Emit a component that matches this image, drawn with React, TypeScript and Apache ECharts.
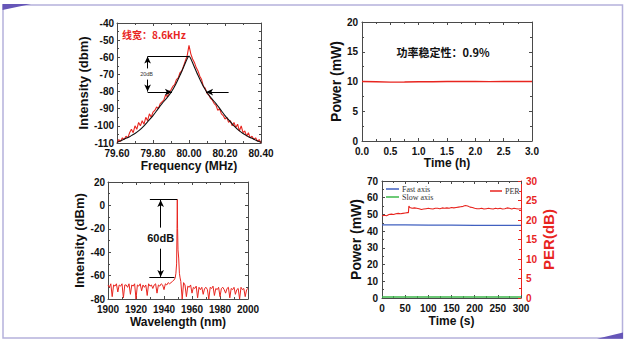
import React, { useEffect, useRef } from "react";
import * as echarts from "echarts";

// ---------- Panel A: linewidth spectrum ----------
const freqMHz = [
  79.6, 79.61, 79.62, 79.63, 79.64, 79.65, 79.66, 79.67, 79.68, 79.69,
  79.7, 79.71, 79.72, 79.73, 79.74, 79.75, 79.76, 79.77, 79.78, 79.79,
  79.8, 79.81, 79.82, 79.83, 79.84, 79.85, 79.86, 79.87, 79.88, 79.89,
  79.9, 79.91, 79.92, 79.93, 79.94, 79.95, 79.96, 79.97, 79.98, 79.99,
  80.0, 80.01, 80.02, 80.03, 80.04, 80.05, 80.06, 80.07, 80.08, 80.09,
  80.1, 80.11, 80.12, 80.13, 80.14, 80.15, 80.16, 80.17, 80.18, 80.19,
  80.2, 80.21, 80.22, 80.23, 80.24, 80.25, 80.26, 80.27, 80.28, 80.29,
  80.3, 80.31, 80.32, 80.33, 80.34, 80.35, 80.36, 80.37, 80.38, 80.39, 80.4,
];
const measuredDbm = [
  -110, -108, -109, -107, -108, -106, -107, -104, -102, -104,
  -100, -102, -98, -100, -97, -99, -95, -97, -93, -95,
  -92, -91, -89, -90, -87, -86, -85, -82, -83, -80,
  -79, -77, -76, -73, -72, -69, -68, -65, -62, -59,
  -53, -58, -61, -63, -66, -68, -71, -73, -77, -78,
  -81, -82, -84, -85, -87, -88, -91, -90, -93, -94,
  -96, -95, -98, -97, -100, -98, -101, -99, -103, -100,
  -104, -103, -106, -104, -107, -106, -108, -107, -109, -108, -110,
];
const fitFreq = [
  79.6, 79.625, 79.65, 79.675, 79.7, 79.725, 79.75, 79.775, 79.8, 79.825,
  79.85, 79.875, 79.9, 79.925, 79.95, 79.975, 79.99, 80.0, 80.01, 80.025, 80.05, 80.075,
  80.1, 80.125, 80.15, 80.175, 80.2, 80.225, 80.25, 80.275, 80.3, 80.325,
  80.35, 80.375, 80.4,
];
const fitDbm = [
  -109.5, -108.5, -107.3, -106, -104.5, -102.5, -100, -97, -94, -90.5,
  -87, -84, -80.5, -76, -70.5, -64.5, -60.8, -59.3, -60.8, -64.5, -70.5, -76,
  -80.5, -84, -87, -90.5, -94, -97, -100, -102.5, -104.5, -106,
  -107.3, -108.5, -109.5,
];
// annotation segments [x1, y1, x2, y2]
const fwhmLines = [
  [79.77, -59.3, 80.0, -59.3],
];
const fwhmArrows = [
  [79.77, -66.5, 79.77, -59.6],
  [79.77, -73, 79.77, -80],
  [79.77, -80.3, 79.905, -80.3],
  [80.22, -80.3, 80.095, -80.3],
];

// ---------- Panel B: power stability ----------
const timeH = [0, 0.25, 0.5, 0.75, 1.0, 1.25, 1.5, 1.75, 2.0, 2.25, 2.5, 2.75, 3.0];
const powerMW = [10.0, 9.95, 9.9, 9.92, 9.95, 9.97, 10.0, 10.0, 10.0, 9.98, 10.0, 10.0, 10.0];

// ---------- Panel C: wide spectrum ----------
const wavelengthNm = [
  1900, 1901, 1902, 1903, 1904, 1905, 1906, 1907, 1908, 1909,
  1910, 1911, 1912, 1913, 1914, 1915, 1916, 1917, 1918, 1919,
  1920, 1921, 1922, 1923, 1924, 1925, 1926, 1927, 1928, 1929,
  1930, 1931, 1932, 1933, 1934, 1935, 1936, 1937, 1938, 1939,
  1940, 1941, 1942, 1943, 1944, 1945, 1946, 1947, 1948, 1948.5,
  1949, 1949.3, 1949.5, 1949.7, 1950, 1950.5, 1951, 1951.5, 1952, 1953,
  1954, 1955, 1956, 1957, 1958, 1959, 1960, 1961, 1962, 1963,
  1964, 1965, 1966, 1967, 1968, 1969, 1970, 1971, 1972, 1973,
  1974, 1975, 1976, 1977, 1978, 1979, 1980, 1981, 1982, 1983,
  1984, 1985, 1986, 1987, 1988, 1989, 1990, 1991, 1992, 1993,
  1994, 1995, 1996, 1997, 1998, 1999, 2000,
];
const spectrumDbm = [
  -68, -70, -67, -78, -68, -69, -67, -74, -68, -69,
  -67, -79, -68, -68, -70, -67, -76, -68, -69, -67,
  -80, -68, -69, -67, -73, -68, -70, -68, -77, -67,
  -69, -68, -71, -68, -67, -75, -68, -69, -67, -68,
  -72, -67, -68, -66, -67, -66, -65, -64, -62, -58,
  -50, -20, 5, -20, -38, -45, -58, -62, -65, -80,
  -66, -68, -78, -69, -70, -68, -75, -70, -71, -69,
  -79, -70, -72, -70, -76, -71, -70, -72, -80, -70,
  -71, -69, -77, -71, -72, -70, -78, -71, -70, -72,
  -75, -71, -70, -79, -71, -72, -70, -76, -72, -71,
  -80, -70, -72, -71, -78, -72, -71,
];
const smsrLines = [
  [1929.9, 5, 1949.5, 5],
  [1929.5, -61.5, 1947.5, -61.5],
];
const smsrArrows = [
  [1937.6, -19, 1937.6, 4.6],
  [1937.6, -37, 1937.6, -61.1],
];

// ---------- Panel D: PM output ----------
const timeS = [0, 50, 100, 150, 200, 250, 300];
const fastAxisMW = [43.8, 43.7, 43.6, 43.6, 43.5, 43.5, 43.5];
const slowAxisMW = [0.6, 0.6, 0.6, 0.6, 0.6, 0.6, 0.6];
const perTimeS = [
  0, 5, 10, 15, 20, 25, 30, 35, 40, 45, 50, 55, 57, 58, 60, 65, 70, 75, 80, 85,
  90, 95, 100, 105, 110, 115, 120, 125, 130, 135, 140, 145, 150, 155, 160, 165, 170, 175, 180, 185,
  190, 195, 200, 205, 210, 215, 220, 225, 230, 235, 240, 245, 250, 255, 260, 265, 270, 275, 280, 285,
  290, 295, 300,
];
const perDb = [
  21.0, 21.2, 21.1, 21.4, 21.5, 21.4, 21.6, 21.7, 21.6, 21.7, 21.8, 21.9, 21.9, 23.6, 23.2, 23.0, 23.1, 23.0, 22.9, 22.7,
  22.8, 22.9, 23.0, 22.9, 22.8, 23.0, 23.0, 22.9, 23.1, 23.0, 23.1, 23.0, 23.2, 23.1, 23.2, 23.3, 23.4, 23.5, 23.7, 23.6,
  23.3, 23.2, 23.0, 22.9, 22.9, 23.0, 22.8, 22.9, 23.0, 22.9, 22.8, 23.0, 22.9, 23.0, 22.8, 22.9, 23.1, 23.0, 22.8, 23.0,
  22.9, 22.8, 22.9,
];

const FONT = "'Liberation Sans', Arial, sans-serif";
const CJK = "'Noto Sans CJK SC', sans-serif";
const AXC = "#4a4a4a";
const RED = "#e8251f";

const pairs = (xs: number[], ys: number[]) => xs.map((x, i) => [x, ys[i]]);

const LABEL = { color: "#111", fontSize: 10, fontWeight: "bold", fontFamily: FONT, margin: 3 };
const NAME = { color: "#111", fontSize: 13, fontWeight: "bold", fontFamily: FONT };

function axis(extra: any) {
  return {
    axisLine: { show: true, onZero: false, lineStyle: { color: AXC, width: 1 } },
    axisTick: { show: true, inside: true, length: 3, lineStyle: { color: AXC, width: 1 } },
    minorTick: { show: true, splitNumber: 2, length: 2, lineStyle: { color: AXC, width: 1 } },
    splitLine: { show: false },
    axisLabel: LABEL,
    nameLocation: "middle",
    nameTextStyle: NAME,
    ...extra,
  };
}
function mirror(extra: any) {
  return axis({ axisLabel: { show: false }, ...extra });
}

function segs(list: number[][], arrow: boolean) {
  return list.map((s) => [
    { coord: [s[0], s[1]], symbol: "none" },
    { coord: [s[2], s[3]], symbol: arrow ? "arrow" : "none" },
  ]);
}

export default function App() {
  const ref = useRef<HTMLDivElement>(null);
  useEffect(() => {
    if (!ref.current) return;
    const chart = echarts.init(ref.current, null, { renderer: "svg" });
    const grids = [
      { left: 117, top: 23, width: 144, height: 120 },
      { left: 362, top: 22, width: 170, height: 119 },
      { left: 108, top: 182, width: 140, height: 117 },
      { left: 382, top: 181, width: 139, height: 117 },
    ];
    const fx2 = (v: number) => v.toFixed(2);
    const fx1 = (v: number) => v.toFixed(1);
    const plain = (v: number) => String(v);
    const xA = { min: 79.6, max: 80.4, interval: 0.2 };
    const xB = { min: 0, max: 3, interval: 0.5 };
    const xC = { min: 1900, max: 2000, interval: 20 };
    const xD = { min: 0, max: 300, interval: 50 };
    const yA = { min: -110, max: -40, interval: 10 };
    const yB = { min: 0, max: 20, interval: 5 };
    const yC = { min: -80, max: 20, interval: 20 };
    const yD = { min: 0, max: 70, interval: 10 };
    const yD2 = { min: 0, max: 30, interval: 5 };
    const markStyle = {
      silent: true,
      animation: false,
      symbolSize: [5, 7],
      label: { show: false },
      emphasis: { disabled: true },
      lineStyle: { color: "#000", width: 1, type: "solid" },
    };
    const xName = { ...NAME, fontSize: 12 };
    const option: any = {
      animation: false,
      backgroundColor: "#fff",
      grid: grids,
      xAxis: [
        axis({ type: "value", gridIndex: 0, ...xA, axisLabel: { ...LABEL, formatter: fx2, margin: 5 }, name: "Frequency (MHz)", nameGap: 17, nameTextStyle: xName }),
        mirror({ type: "value", gridIndex: 0, position: "top", ...xA }),
        axis({ type: "value", gridIndex: 1, ...xB, axisLabel: { ...LABEL, formatter: fx1, margin: 5 }, name: "Time (h)", nameGap: 15, nameTextStyle: xName }),
        mirror({ type: "value", gridIndex: 1, position: "top", ...xB }),
        axis({ type: "value", gridIndex: 2, ...xC, axisLabel: { ...LABEL, formatter: plain, margin: 5 }, name: "Wavelength (nm)", nameGap: 17, nameTextStyle: xName }),
        mirror({ type: "value", gridIndex: 2, position: "top", ...xC }),
        axis({ type: "value", gridIndex: 3, ...xD, axisLabel: { ...LABEL, formatter: plain, margin: 5 }, name: "Time (s)", nameGap: 17, nameTextStyle: xName }),
        mirror({ type: "value", gridIndex: 3, position: "top", ...xD }),
      ],
      yAxis: [
        axis({ type: "value", gridIndex: 0, ...yA, name: "Intensity (dbm)", nameGap: 24 }),
        mirror({ type: "value", gridIndex: 0, position: "right", ...yA }),
        axis({ type: "value", gridIndex: 1, ...yB, axisLabel: { ...LABEL, margin: 4 }, name: "Power (mW)", nameGap: 17, nameTextStyle: { ...NAME, fontSize: 14 } }),
        mirror({ type: "value", gridIndex: 1, position: "right", ...yB }),
        axis({ type: "value", gridIndex: 2, ...yC, name: "Intensity (dBm)", nameGap: 22 }),
        mirror({ type: "value", gridIndex: 2, position: "right", ...yC }),
        axis({ type: "value", gridIndex: 3, ...yD, axisLabel: { ...LABEL, margin: 4 }, name: "Power (mW)", nameGap: 18, nameTextStyle: { ...NAME, fontSize: 14 } }),
        axis({
          type: "value", gridIndex: 3, position: "right", ...yD2,
          name: "PER(dB)", nameGap: 16, nameRotate: 90,
          axisLine: { show: true, onZero: false, lineStyle: { color: RED, width: 1 } },
          axisTick: { show: true, inside: true, length: 3, lineStyle: { color: RED } },
          minorTick: { show: true, splitNumber: 2, length: 2, lineStyle: { color: RED } },
          axisLabel: { ...LABEL, color: RED, margin: 5 },
          nameTextStyle: { ...NAME, color: RED, fontSize: 15 },
        }),
      ],
      legend: [
        {
          data: ["Fast axis", "Slow axis"], orient: "vertical", left: 386, top: 185,
          icon: "rect", itemWidth: 13, itemHeight: 1.5, itemGap: 0,
          textStyle: { fontFamily: "'Liberation Serif', serif", fontSize: 8, color: "#333", padding: [0, 0, 0, -2] },
          selectedMode: false, padding: 0,
        },
        {
          data: ["PER"], left: 490, top: 187,
          icon: "rect", itemWidth: 12, itemHeight: 1.5,
          textStyle: { fontFamily: "'Liberation Serif', serif", fontSize: 8, color: "#333", padding: [0, 0, 0, -2] },
          selectedMode: false, padding: 0,
        },
      ],
      series: [
        {
          type: "line", name: "Measured", xAxisIndex: 0, yAxisIndex: 0, symbol: "none",
          data: pairs(freqMHz, measuredDbm), lineStyle: { color: RED, width: 1.1 }, z: 2,
        },
        {
          type: "line", name: "Fit", xAxisIndex: 0, yAxisIndex: 0, symbol: "none", smooth: 0.3,
          data: pairs(fitFreq, fitDbm), lineStyle: { color: "#111", width: 1.1 }, z: 3,
          markLine: { ...markStyle, data: [...segs(fwhmLines, false), ...segs(fwhmArrows, true)] },
        },
        {
          type: "line", name: "Power", xAxisIndex: 2, yAxisIndex: 2, symbol: "none",
          data: pairs(timeH, powerMW), lineStyle: { color: RED, width: 1.4 },
        },
        {
          type: "line", name: "Spectrum", xAxisIndex: 4, yAxisIndex: 4, symbol: "none",
          data: pairs(wavelengthNm, spectrumDbm), lineStyle: { color: RED, width: 1 },
          markLine: { ...markStyle, data: [...segs(smsrLines, false), ...segs(smsrArrows, true)] },
        },
        {
          type: "line", name: "Fast axis", xAxisIndex: 6, yAxisIndex: 6, symbol: "none",
          data: pairs(timeS, fastAxisMW), lineStyle: { color: "#4060c0", width: 1.2 }, itemStyle: { color: "#4060c0" },
        },
        {
          type: "line", name: "Slow axis", xAxisIndex: 6, yAxisIndex: 6, symbol: "none",
          data: pairs(timeS, slowAxisMW), lineStyle: { color: "#3db84a", width: 1.6 }, itemStyle: { color: "#3db84a" },
        },
        {
          type: "line", name: "PER", xAxisIndex: 6, yAxisIndex: 7, symbol: "none",
          data: pairs(perTimeS, perDb), lineStyle: { color: RED, width: 1.1 }, itemStyle: { color: RED },
        },
      ],
    };
    chart.setOption(option);

    const p20 = chart.convertToPixel({ xAxisIndex: 0, yAxisIndex: 0 }, [79.77, -69.8]) as number[];
    const p60 = chart.convertToPixel({ xAxisIndex: 4, yAxisIndex: 4 }, [1937.6, -28]) as number[];
    chart.setOption({
      graphic: [
        { type: "rect", shape: { x: 3, y: 5, width: 619.5, height: 333 }, style: { fill: "none", stroke: "#b5b1dc", lineWidth: 1.5 }, silent: true },
        { type: "polygon", shape: { points: [[2.5, 4], [31, 4], [2.5, 10]] }, style: { fill: "#6656b8" }, silent: true },
        { type: "polygon", shape: { points: [[597, 338.8], [623, 332.5], [623, 338.8]] }, style: { fill: "#6656b8" }, silent: true },
        { type: "text", x: 122, y: 34, style: { text: "线宽：8.6kHz", fill: RED, font: `bold 10px ${CJK}`, verticalAlign: "middle" }, silent: true },
        { type: "text", x: 443, y: 52, style: { text: "功率稳定性：0.9%", fill: "#111", font: `bold 11px ${CJK}`, align: "center", verticalAlign: "middle" }, silent: true },
        { type: "text", x: p20[0] - 1, y: p20[1], style: { text: "20dB", fill: "#333", font: `5.5px ${FONT}`, align: "center", verticalAlign: "middle" }, silent: true },
        { type: "text", x: p60[0], y: p60[1], style: { text: "60dB", fill: "#111", font: `bold 11px ${FONT}`, align: "center", verticalAlign: "middle" }, silent: true },
      ],
    });
    return () => chart.dispose();
  }, []);
  return <div ref={ref} style={{ position: "fixed", left: 0, top: 0, width: 628, height: 341 }} />;
}
